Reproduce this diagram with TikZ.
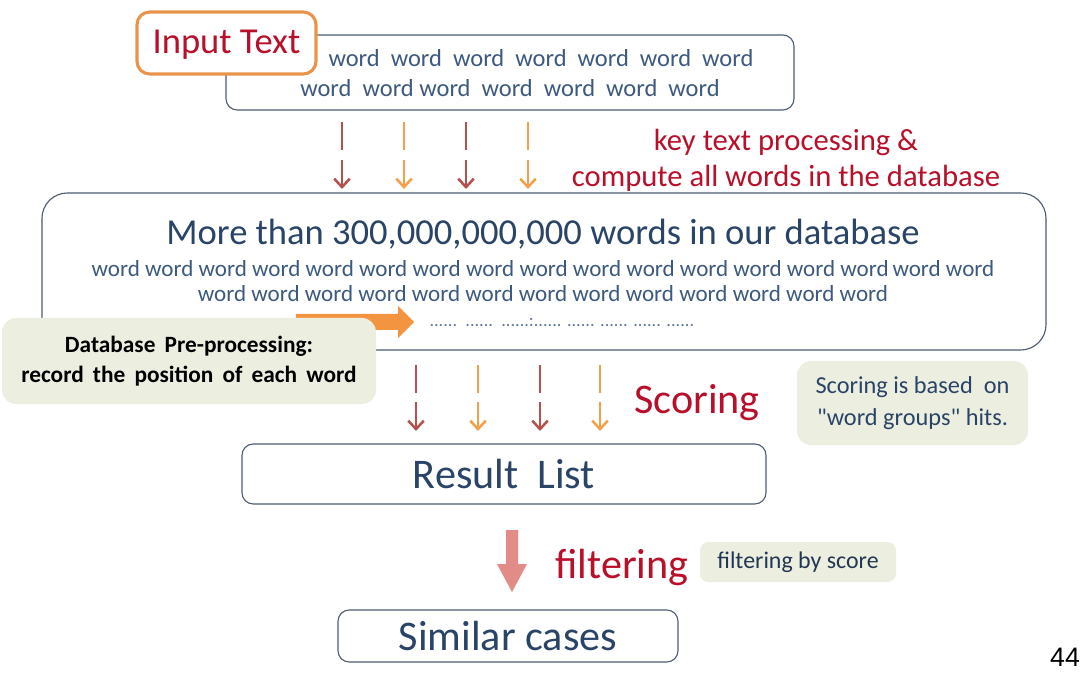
\documentclass[tikz,border=0pt]{standalone}
\usepackage{fontspec}
\setmainfont{Carlito}
\newfontfamily\plainf{Carlito}[Ligatures=TeXOff]
\newfontfamily\arialf{Liberation Sans}
\usetikzlibrary{arrows.meta}
\definecolor{navy}{HTML}{2A4468}
\definecolor{wordc}{HTML}{3D5A7E}
\definecolor{redt}{HTML}{B8102A}
\definecolor{darr}{HTML}{B4504E}
\definecolor{oarr}{HTML}{F2A04A}
\definecolor{bord}{HTML}{4C5C72}
\definecolor{obord}{HTML}{E8944A}
\definecolor{notefill}{HTML}{ECEEDF}
\definecolor{pinkarr}{HTML}{E28B87}
\definecolor{bigor}{HTML}{F39440}
\newcommand\fsz[1]{\fontsize{#1}{#1}\selectfont}
\begin{document}
\begin{tikzpicture}[x=0.025cm,y=-0.025cm,
  box/.style={draw=bord,line width=0.8pt,fill=white,rounded corners=8pt,inner sep=0pt},
  note/.style={fill=notefill,rounded corners=10pt,inner sep=0pt,align=center},
  bar/.style={line width=2.1pt},
  arr/.style={line width=1.8pt,-{Straight Barb[length=6pt,width=11pt]}},
  words/.style={text=wordc,inner sep=0pt}
]
\useasboundingbox (0,0) rectangle (1084,688);
\fill[white] (0,0) rectangle (1084,688);

% input word box
\node[box,minimum width={568*0.025cm},minimum height={75*0.025cm}] (inbox) at (510,72.5) {};
\node[words,font=\fsz{17.4}] (inl1) at (541,58) {word\ \ word\ \ word\ \ word\ \ word\ \ word\ \ word};
\node[words,font=\fsz{17.4}] (inl2) at (510,88) {word\ \ word word\ \ word\ \ word\ \ word\ \ word};
\node[draw=obord,line width=2.2pt,fill=white,rounded corners=9pt,minimum width={179*0.025cm},minimum height={62*0.025cm},text=redt,font=\fsz{26},text depth=2pt] (inlabel) at (226.5,43) {Input Text};

% database box
\node[box,rounded corners=18pt,minimum width={1004*0.025cm},minimum height={157*0.025cm}] (db) at (544,271.5) {};
\node[text=navy,inner sep=0pt,font=\fsz{26}] (dbtitle) at (543,234) {More than 300,000,000,000 words in our database};
\node[words,font=\fsz{16.4}] (dbl1) at (543,269) {word word word word word word word word word word word word word word word\,word word};
\node[words,font=\fsz{16.4}] (dbl2) at (543,294) {word word word word word word word word word word word word word};
\node[words,font=\fsz{13},text=wordc!80] (dbl3) at (562,323) {......\ \ ......\ \ ......:...... ...... ...... ...... ......};

% top arrows
\foreach \xx/\cc in {342/darr,404/oarr,466/darr,528/oarr}{
  \coordinate (ta\xx) at (\xx,122);
  \coordinate (tb\xx) at (\xx,150);
  \coordinate (tc\xx) at (\xx,160);
  \coordinate (td\xx) at (\xx,189);
  \draw[bar,\cc] (ta\xx) -- (tb\xx);
  \draw[arr,\cc] (tc\xx) -- (td\xx);
}
\node[text=redt,align=center,font=\fsz{21.8},inner sep=0pt] (keyt) at (786,160) {key text processing \&\\[4pt]compute all words in the database};

% preprocessing note with orange arrow
\coordinate (oa1) at (296,322);
\coordinate (oa2) at (398,322);
\coordinate (oa3) at (414,322);
\fill[bigor] (296,314) -- (398,314) -- (398,306) -- (oa3) -- (398,338) -- (398,330) -- (296,330) -- cycle;
\node[note,minimum width={374*0.025cm},minimum height={86*0.025cm},font=\fsz{16.6}\bfseries] (pre) at (189,361) {Database\ \,Pre-processing:\\[5pt]record\ \,the\ \,position\ \,of\ \,each\ \,word};

% bottom arrows
\foreach \xx/\cc in {416/darr,478/oarr,540/darr,600/oarr}{
  \coordinate (ba\xx) at (\xx,365);
  \coordinate (bb\xx) at (\xx,393);
  \coordinate (bc\xx) at (\xx,402);
  \coordinate (bd\xx) at (\xx,431);
  \draw[bar,\cc] (ba\xx) -- (bb\xx);
  \draw[arr,\cc] (bc\xx) -- (bd\xx);
}
\node[text=redt,font=\fsz{30},inner sep=0pt] (scoring) at (697,403) {Scoring};
\node[note,minimum width={231*0.025cm},minimum height={84*0.025cm},text=navy,font=\plainf\fsz{17.3}] (scnote) at (912.5,403) {Scoring is based\ \ on\\[5pt]"word groups" hits.};

% result list
\node[box,minimum width={524*0.025cm},minimum height={60*0.025cm},text=navy,font=\fsz{30}] (result) at (504,474) {Result\ \ List};

% filtering arrow
\fill[pinkarr] (506,530) -- (518,530) -- (518,564) -- (527,564) -- (512,592) -- (497,564) -- (506,564) -- cycle;
\node[text=redt,font=\fsz{30},inner sep=0pt] (filt) at (622,567) {filtering};
\node[note,rounded corners=6pt,minimum width={196*0.025cm},minimum height={40*0.025cm},text=navy!80!black,font=\fsz{17}] (fnote) at (798,562) {filtering by score};

% similar cases
\node[box,minimum width={340*0.025cm},minimum height={52*0.025cm},text=navy,font=\fsz{30}] (similar) at (508,636) {Similar cases};

\node[font=\arialf\fontsize{19}{19}\selectfont,inner sep=0pt] (pg) at (1065,657) {44};
\end{tikzpicture}
\end{document}
